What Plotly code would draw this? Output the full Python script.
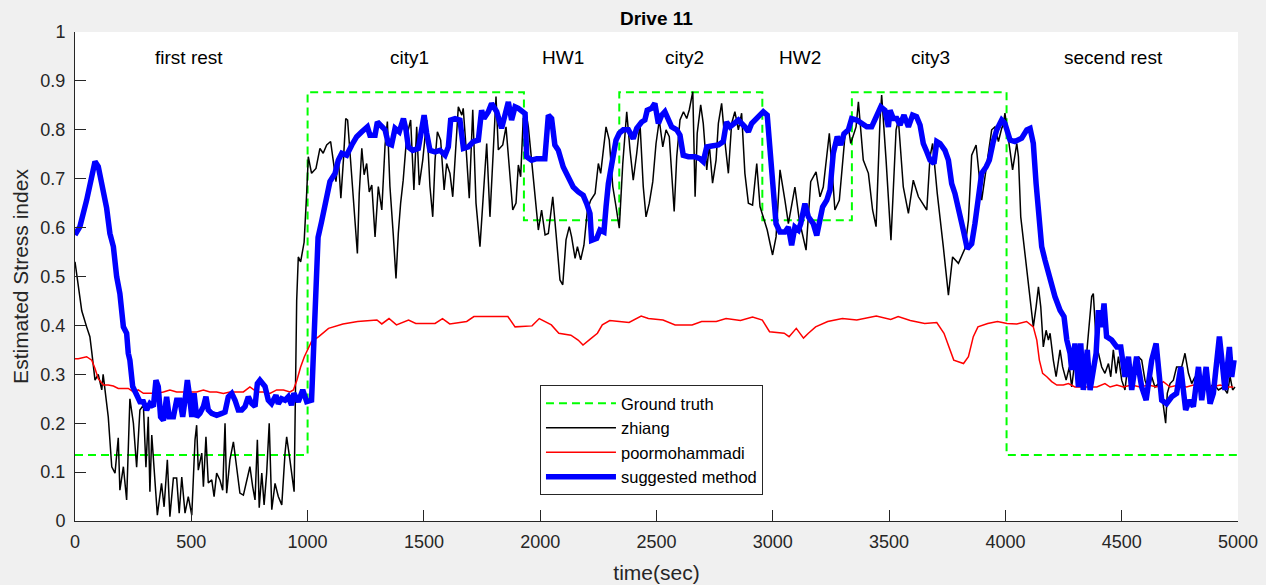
import plotly.graph_objects as go

# ---------------- data ----------------
gt_t = [0, 1000, 1930, 2340, 2955, 3340, 4005, 5000]
gt_v = [0.135, 0.877, 0.615, 0.877, 0.615, 0.877, 0.135, 0.135]

zh_t = [0, 29, 50, 64, 72, 86, 100, 115, 121, 143, 158, 172, 186, 193, 208, 222, 236, 251, 265, 279,
        294, 305, 315, 322, 330, 344, 354, 372, 383, 397, 408, 423, 437, 448, 459, 473, 487, 502, 516, 523,
        530, 545, 552, 563, 573, 588, 598, 609, 623, 635, 645, 652, 666, 681, 695, 709, 724, 738, 752, 764,
        774, 784, 792, 803, 813, 824, 835, 846, 860, 874, 889, 903, 910, 924, 942, 953, 960, 970, 985, 996,
        1003, 1017, 1036, 1053, 1067, 1082, 1099, 1110, 1122, 1132, 1143, 1154, 1164, 1172, 1182, 1197, 1214, 1222, 1233, 1243,
        1254, 1265, 1276, 1290, 1304, 1319, 1333, 1343, 1354, 1368, 1380, 1390, 1400, 1411, 1426, 1443, 1457, 1469, 1480, 1495,
        1512, 1526, 1538, 1548, 1558, 1572, 1587, 1598, 1612, 1624, 1638, 1648, 1663, 1669, 1681, 1695, 1710, 1724, 1741, 1755,
        1770, 1784, 1798, 1810, 1820, 1839, 1853, 1867, 1882, 1896, 1906, 1916, 1927, 1939, 1949, 1963,
        1978, 1992, 2006, 2021, 2035, 2054, 2068, 2085, 2097, 2111, 2125, 2135, 2150, 2160, 2174, 2188, 2203, 2217, 2236, 2250,
        2260, 2271, 2283, 2297, 2312, 2326, 2340, 2355, 2372, 2386, 2400, 2415, 2429, 2443, 2455, 2469, 2484, 2498, 2512, 2527,
        2541, 2555, 2565, 2576, 2587, 2601, 2616, 2630, 2641, 2656, 2666, 2675, 2690, 2701, 2716, 2727, 2741, 2756, 2766, 2780,
        2795, 2809, 2823, 2837, 2852, 2866, 2880, 2895, 2913, 2931, 2945, 2959, 2976, 2988, 2999, 3014,
        3031, 3052, 3067, 3095, 3114, 3143, 3163, 3186, 3203, 3217, 3243, 3260, 3267, 3286, 3310, 3325, 3335, 3358, 3368, 3389,
        3411, 3429, 3444, 3461, 3468, 3487, 3508, 3530, 3540, 3561, 3583, 3604, 3626, 3662, 3676, 3687, 3707, 3733, 3755, 3773,
        3798, 3826, 3841, 3855, 3874, 3898, 3927,
        3941, 3955, 3970, 3984, 3991, 3998, 4013, 4031, 4049, 4056, 4066, 4077, 4092, 4106, 4120, 4132, 4142, 4152, 4163, 4175,
        4185, 4192, 4206, 4218, 4235, 4246, 4261, 4275, 4285, 4299, 4309, 4328, 4342, 4357, 4371, 4378, 4390, 4400, 4414, 4428,
        4443, 4453, 4464, 4476, 4486, 4500, 4514, 4529, 4543, 4557, 4572, 4586, 4600, 4615, 4629, 4643, 4658, 4672, 4682, 4689,
        4696, 4708, 4722, 4736, 4758, 4772, 4787, 4801, 4815, 4830, 4851, 4873, 4894, 4916, 4937, 4954, 4966, 4977, 4987]
zh_v = [0.53, 0.43, 0.397, 0.377, 0.346, 0.288, 0.30, 0.268, 0.30, 0.213, 0.111, 0.098, 0.17, 0.063, 0.111, 0.043, 0.25, 0.20, 0.11, 0.227,
        0.237, 0.11, 0.213, 0.06, 0.176, 0.084, 0.012, 0.077, 0.029, 0.125, 0.009, 0.088, 0.088, 0.016, 0.09, 0.016, 0.05, 0.012, 0.166, 0.196,
        0.104, 0.139, 0.07, 0.172, 0.078, 0.084, 0.05, 0.098, 0.084, 0.063, 0.2, 0.057, 0.125, 0.162, 0.111, 0.057, 0.053, 0.084, 0.111, 0.07,
        0.043, 0.166, 0.027, 0.098, 0.033, 0.098, 0.2, 0.023, 0.077, 0.05, 0.033, 0.139, 0.172, 0.125, 0.06, 0.45, 0.54, 0.53, 0.57, 0.67,
        0.745, 0.711, 0.721, 0.762, 0.752, 0.769, 0.776, 0.738, 0.694, 0.745, 0.66, 0.738, 0.823, 0.82, 0.759, 0.656, 0.547, 0.67, 0.762, 0.708,
        0.731, 0.673, 0.687, 0.581, 0.684, 0.636, 0.769, 0.817, 0.684, 0.588, 0.496, 0.588, 0.65, 0.697, 0.786, 0.82, 0.677, 0.806, 0.687, 0.738,
        0.82, 0.684, 0.622, 0.738, 0.796, 0.779, 0.677, 0.731, 0.711, 0.663, 0.765, 0.847, 0.83, 0.844, 0.765, 0.66, 0.841, 0.65, 0.561, 0.667,
        0.772, 0.622, 0.762, 0.868, 0.759, 0.769, 0.806, 0.718, 0.636, 0.65, 0.728, 0.704, 0.823, 0.834, 0.806, 0.738,
        0.656, 0.595, 0.636, 0.585, 0.588, 0.663, 0.588, 0.493, 0.483, 0.575, 0.602, 0.581, 0.537, 0.561, 0.534, 0.564, 0.636, 0.656, 0.67, 0.731,
        0.711, 0.759, 0.806, 0.779, 0.684, 0.643, 0.599, 0.731, 0.837, 0.759, 0.697, 0.752, 0.813, 0.684, 0.622, 0.65, 0.694, 0.772, 0.82, 0.765,
        0.80, 0.786, 0.718, 0.633, 0.745, 0.82, 0.837, 0.823, 0.841, 0.878, 0.663, 0.793, 0.851, 0.813, 0.718, 0.769, 0.691, 0.738, 0.813, 0.854,
        0.772, 0.711, 0.813, 0.837, 0.80, 0.834, 0.711, 0.65, 0.646, 0.731, 0.643, 0.619, 0.595, 0.568, 0.544, 0.581,
        0.718, 0.656, 0.608, 0.683, 0.615, 0.554, 0.694, 0.714, 0.663, 0.683, 0.793, 0.683, 0.636, 0.656, 0.786, 0.806, 0.772, 0.806, 0.857, 0.738,
        0.711, 0.636, 0.602, 0.82, 0.871, 0.738, 0.574, 0.80, 0.82, 0.683, 0.629, 0.697, 0.663, 0.636, 0.745, 0.772, 0.67, 0.561, 0.462, 0.54,
        0.527, 0.557, 0.615, 0.748, 0.769, 0.656, 0.758,
        0.80, 0.806, 0.776, 0.803, 0.81, 0.834, 0.786, 0.718, 0.772, 0.745, 0.622, 0.575, 0.52, 0.452, 0.397, 0.438, 0.479, 0.438, 0.356, 0.39,
        0.37, 0.384, 0.329, 0.295, 0.35, 0.315, 0.288, 0.315, 0.274, 0.329, 0.295, 0.315, 0.302, 0.384, 0.459, 0.465, 0.37, 0.343, 0.315, 0.302,
        0.322, 0.295, 0.35, 0.302, 0.336, 0.288, 0.268, 0.329, 0.309, 0.295, 0.336, 0.329, 0.288, 0.268, 0.295, 0.274, 0.281, 0.261, 0.227, 0.20,
        0.261, 0.281, 0.288, 0.315, 0.315, 0.343, 0.302, 0.281, 0.295, 0.274, 0.281, 0.268, 0.281, 0.268, 0.274, 0.261, 0.295, 0.268, 0.274]

pm_t = [0, 14, 50, 72, 86, 100, 122, 143, 165, 186, 208, 229, 251, 272, 294, 322, 351, 380, 408, 437,
        466, 494, 523, 552, 580, 609, 638, 666, 695, 724, 752, 781, 810, 838, 867, 896, 924, 939, 954, 970,
        986, 1017, 1048, 1090, 1152, 1215, 1298, 1319, 1350, 1382, 1434, 1465, 1548, 1580, 1611, 1684, 1715, 1778, 1861, 1892,
        1965, 1996, 2048, 2080, 2132, 2163, 2184, 2215, 2246, 2267, 2299, 2340, 2382, 2434, 2465, 2528, 2580, 2653, 2694, 2757,
        2799, 2861, 2913, 2955, 2986, 3049, 3070, 3101, 3132, 3153, 3184, 3236, 3299, 3361, 3445, 3507, 3539, 3591, 3653, 3705,
        3736, 3778, 3820, 3841, 3862, 3882, 3924, 3966, 4007, 4049, 4091, 4120, 4135, 4146, 4160, 4178, 4199, 4221, 4249, 4271,
        4299, 4335, 4364, 4393, 4428, 4450, 4479, 4507, 4543, 4579, 4615, 4651, 4679, 4708, 4744, 4779, 4808, 4851, 4887, 4923,
        4951, 4980]
pm_v = [0.332, 0.332, 0.336, 0.329, 0.312, 0.291, 0.278, 0.278, 0.276, 0.271, 0.271, 0.271, 0.264, 0.268, 0.261, 0.261, 0.261, 0.264, 0.268, 0.264,
        0.264, 0.264, 0.264, 0.268, 0.264, 0.264, 0.261, 0.264, 0.264, 0.264, 0.274, 0.264, 0.264, 0.261, 0.268, 0.268, 0.264, 0.268, 0.288, 0.315,
        0.336, 0.367, 0.377, 0.394, 0.403, 0.408, 0.411, 0.403, 0.414, 0.401, 0.411, 0.404, 0.404, 0.414, 0.403, 0.408, 0.418, 0.418, 0.418, 0.397,
        0.399, 0.414, 0.401, 0.384, 0.38, 0.37, 0.36, 0.372, 0.384, 0.401, 0.41, 0.408, 0.406, 0.419, 0.414, 0.411, 0.401, 0.401, 0.408, 0.408,
        0.414, 0.41, 0.417, 0.411, 0.387, 0.384, 0.377, 0.394, 0.374, 0.384, 0.397, 0.408, 0.414, 0.411, 0.419, 0.412, 0.418, 0.41, 0.404, 0.406,
        0.384, 0.329, 0.322, 0.336, 0.377, 0.397, 0.404, 0.408, 0.404, 0.403, 0.408, 0.397, 0.37, 0.329, 0.302, 0.295, 0.285, 0.278, 0.278, 0.281,
        0.274, 0.274, 0.274, 0.274, 0.281, 0.274, 0.278, 0.274, 0.278, 0.274, 0.278, 0.274, 0.285, 0.274, 0.278, 0.274, 0.278, 0.274, 0.274, 0.278,
        0.274, 0.274]

sm_t = [0, 21, 50, 70, 86, 100, 115, 136, 150, 165, 179, 193, 208, 222, 229, 236, 248, 265, 279, 294,
        308, 322, 337, 348, 358, 368, 380, 394, 405, 423, 437, 451, 463, 473, 483, 491, 502, 512, 523, 537,
        552, 563, 573, 588, 609, 631, 645, 659, 674, 688, 702, 717, 731, 745, 760, 774, 784, 795, 807, 817,
        831, 845, 864, 874, 888, 903, 917, 931, 941, 960, 979, 996, 1017, 1025, 1035, 1045, 1060, 1082, 1096, 1118,
        1132, 1147, 1168, 1190, 1211, 1233, 1257, 1268, 1290, 1300, 1319, 1333, 1347, 1361, 1376, 1394, 1412, 1423, 1433, 1452,
        1476, 1491, 1501, 1512, 1526, 1548, 1569, 1591, 1605, 1615, 1634, 1655, 1670, 1691, 1713, 1734, 1748, 1758, 1777, 1791,
        1813, 1834, 1849, 1863, 1877, 1892, 1906, 1920, 1935, 1942, 1963, 1985, 2020, 2035, 2049, 2063, 2078, 2099, 2121, 2142,
        2164, 2185, 2200, 2214, 2221, 2243, 2257, 2274, 2283, 2293, 2307, 2326, 2340, 2357, 2379, 2400, 2415, 2436, 2450, 2460,
        2479, 2493, 2508, 2522, 2536, 2551, 2565, 2587, 2601, 2615, 2637, 2665, 2687, 2701, 2716, 2737, 2766, 2787, 2801, 2816,
        2830, 2852, 2880, 2895, 2909, 2930, 2959, 2976, 2988, 3002, 3014, 3031, 3052, 3067, 3081, 3095, 3110, 3120, 3138, 3153,
        3174, 3189, 3203, 3214, 3232, 3246, 3260, 3277, 3292, 3306, 3325, 3339, 3361, 3382, 3404, 3425, 3447, 3464, 3482, 3497,
        3504, 3518, 3533, 3547, 3564, 3583, 3601, 3618, 3633, 3647, 3662, 3676, 3693, 3705, 3719, 3740, 3755, 3769, 3783, 3802,
        3819, 3836, 3855, 3869, 3884, 3898, 3917, 3931, 3948, 3963, 3984, 3998, 4020, 4041, 4070, 4092, 4106, 4120, 4132, 4142,
        4156, 4170, 4192, 4213, 4235, 4252, 4264, 4278, 4285, 4299, 4314, 4324, 4335, 4352, 4364, 4378, 4390, 4400, 4414, 4424,
        4435, 4457, 4479, 4496, 4504, 4514, 4529, 4543, 4564, 4586, 4605, 4629, 4648, 4658, 4672, 4693, 4715, 4736, 4754, 4765,
        4775, 4791, 4808, 4830, 4844, 4863, 4880, 4894, 4908, 4920, 4934, 4944, 4963, 4973, 4983]
sm_v = [0.585, 0.602, 0.656, 0.70, 0.735, 0.725, 0.69, 0.64, 0.588, 0.561, 0.50, 0.465, 0.397, 0.384, 0.343, 0.329, 0.275, 0.254, 0.244, 0.244,
        0.227, 0.24, 0.234, 0.288, 0.275, 0.213, 0.206, 0.254, 0.213, 0.213, 0.247, 0.247, 0.213, 0.247, 0.288, 0.261, 0.213, 0.261, 0.213, 0.22,
        0.234, 0.254, 0.227, 0.22, 0.216, 0.22, 0.223, 0.254, 0.261, 0.247, 0.227, 0.227, 0.234, 0.254, 0.24, 0.234, 0.281, 0.288, 0.281, 0.275,
        0.247, 0.24, 0.257, 0.24, 0.25, 0.247, 0.254, 0.237, 0.261, 0.244, 0.268, 0.244, 0.247, 0.33, 0.48, 0.58, 0.612, 0.67, 0.694, 0.711,
        0.738, 0.752, 0.748, 0.769, 0.786, 0.796, 0.806, 0.789, 0.789, 0.816, 0.806, 0.80, 0.772, 0.769, 0.803, 0.796, 0.823, 0.80, 0.765, 0.758,
        0.762, 0.796, 0.83, 0.793, 0.758, 0.755, 0.758, 0.748, 0.765, 0.82, 0.823, 0.82, 0.762, 0.765, 0.776, 0.779, 0.84, 0.823, 0.837, 0.854,
        0.837, 0.803, 0.833, 0.857, 0.82, 0.847, 0.844, 0.84, 0.833, 0.745, 0.738, 0.741, 0.741, 0.83, 0.823, 0.769, 0.758, 0.724, 0.70, 0.683,
        0.673, 0.666, 0.649, 0.629, 0.574, 0.578, 0.595, 0.591, 0.642, 0.69, 0.728, 0.779, 0.793, 0.80, 0.80, 0.782, 0.803, 0.816, 0.82, 0.84,
        0.844, 0.854, 0.813, 0.83, 0.837, 0.823, 0.806, 0.80, 0.789, 0.748, 0.745, 0.745, 0.741, 0.735, 0.765, 0.767, 0.769, 0.776, 0.816, 0.806,
        0.813, 0.82, 0.806, 0.796, 0.813, 0.823, 0.837, 0.83, 0.758, 0.67, 0.608, 0.591, 0.591, 0.601, 0.564, 0.601, 0.595, 0.608, 0.649, 0.622,
        0.608, 0.584, 0.615, 0.642, 0.656, 0.677, 0.752, 0.786, 0.769, 0.792, 0.80, 0.823, 0.82, 0.813, 0.806, 0.806, 0.833, 0.847, 0.84, 0.806,
        0.84, 0.823, 0.823, 0.81, 0.83, 0.806, 0.83, 0.827, 0.81, 0.772, 0.755, 0.738, 0.731, 0.776, 0.772, 0.758, 0.738, 0.69, 0.67, 0.636,
        0.595, 0.557, 0.567, 0.608, 0.67, 0.711, 0.724, 0.738, 0.776, 0.80, 0.82, 0.813, 0.779, 0.776, 0.783, 0.80, 0.803, 0.772, 0.69, 0.622,
        0.561, 0.534, 0.493, 0.459, 0.431, 0.418, 0.37, 0.343, 0.309, 0.363, 0.274, 0.363, 0.268, 0.35, 0.268, 0.315, 0.343, 0.431, 0.397, 0.445,
        0.377, 0.37, 0.356, 0.356, 0.322, 0.295, 0.336, 0.268, 0.336, 0.274, 0.247, 0.329, 0.363, 0.309, 0.247, 0.24, 0.254, 0.261, 0.315, 0.268,
        0.227, 0.247, 0.234, 0.315, 0.247, 0.315, 0.24, 0.261, 0.329, 0.377, 0.315, 0.268, 0.356, 0.295, 0.329]

phase_labels = ["first rest", "city1", "HW1", "city2", "HW2", "city3", "secend rest"]
phase_x = [490, 1436, 2098, 2622, 3117, 3676, 4463]
phase_y = 0.947

x_ticks = [0, 500, 1000, 1500, 2000, 2500, 3000, 3500, 4000, 4500, 5000]
y_ticks = [0, 0.1, 0.2, 0.3, 0.4, 0.5, 0.6, 0.7, 0.8, 0.9, 1]

# ---------------- figure ----------------
FONT = "Liberation Sans, Arial, sans-serif"
AX = "#262626"

fig = go.Figure()
fig.add_trace(go.Scatter(x=gt_t, y=gt_v, mode="lines", name="Ground truth", line_shape="hv",
                         line=dict(color="#00ff00", width=2, dash="8px,5px")))
fig.add_trace(go.Scatter(x=zh_t, y=zh_v, mode="lines", name="zhiang",
                         line=dict(color="#000000", width=1.5)))
fig.add_trace(go.Scatter(x=pm_t, y=pm_v, mode="lines", name="poormohammadi",
                         line=dict(color="#ff0000", width=1.5)))
fig.add_trace(go.Scatter(x=sm_t, y=sm_v, mode="lines", name="suggested method",
                         line=dict(color="#0000ff", width=5.5)))

for lab, px in zip(phase_labels, phase_x):
    fig.add_annotation(x=px, y=phase_y, xref="x", yref="y", text=lab, showarrow=False,
                       font=dict(family=FONT, size=19, color="#000000"))

fig.update_layout(
    width=1266, height=585,
    margin=dict(l=75, r=28, t=32, b=64, autoexpand=False),
    paper_bgcolor="#f0f0f0", plot_bgcolor="#ffffff",
    font=dict(family=FONT, color=AX),
    title=dict(text="<b>Drive 11</b>", x=0.5185, xanchor="center", y=1 - 18 / 585, yanchor="middle",
               yref="container", font=dict(family=FONT, size=19, color="#000000")),
    showlegend=True,
    legend=dict(x=0.3998, y=0.278, xanchor="left", yanchor="top", bgcolor="#ffffff",
                bordercolor=AX, borderwidth=1, font=dict(family=FONT, size=16.5, color="#000000"),
                itemwidth=70, tracegroupgap=0),
    xaxis=dict(range=[0, 5000], tickvals=x_ticks, showgrid=False, zeroline=False, automargin=False,
               showline=True, linecolor=AX, linewidth=1, mirror=False,
               ticks="inside", ticklen=11, tickcolor=AX, tickwidth=1, ticklabelstandoff=4,
               tickfont=dict(family=FONT, size=18, color=AX),
               title=dict(text="time(sec)", font=dict(family=FONT, size=21, color=AX), standoff=14)),
    yaxis=dict(range=[0, 1], tickvals=y_ticks, showgrid=False, zeroline=False, automargin=False,
               showline=True, linecolor=AX, linewidth=1, mirror=False,
               ticks="inside", ticklen=11, tickcolor=AX, tickwidth=1, ticklabelstandoff=5,
               tickfont=dict(family=FONT, size=18, color=AX),
               title=dict(text="Estimated Stress index", font=dict(family=FONT, size=21, color=AX), standoff=6)),
)

fig.write_html("out.html")
